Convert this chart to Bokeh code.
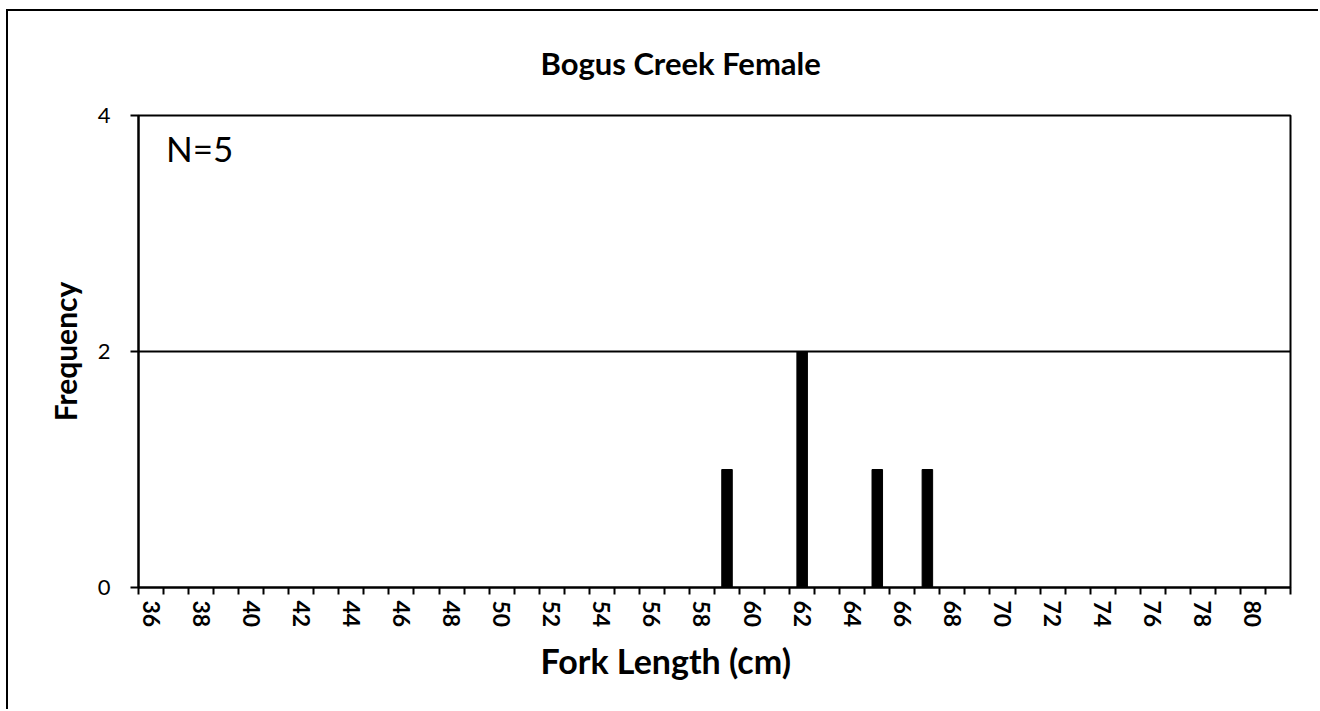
import math
from bokeh.plotting import figure
from bokeh.models import FixedTicker, Range1d, Label, Title, ColumnDataSource
from bokeh.embed import file_html
from bokeh.resources import INLINE

# data
lengths = [59, 62, 65, 67]
counts = [1, 2, 1, 1]
categories = list(range(36, 82))
x_label_values = list(range(36, 81, 2))
y_ticks = [0, 2, 4]
title_text = "Bogus Creek Female"
x_title = "Fork Length (cm)"
y_title = "Frequency"
n_text = "N=5"

FONT = "Lato"

p = figure(width=1312, height=700, output_backend="svg", toolbar_location=None,
           x_range=Range1d(categories[0] - 0.5, categories[-1] + 0.5),
           y_range=Range1d(y_ticks[0], y_ticks[-1]),
           min_border_left=130, min_border_right=30,
           min_border_top=103, min_border_bottom=124)
# chart-area border: the original is cropped on the right and bottom
p.styles = {"border-left": "2px solid black", "border-top": "2px solid black",
            "margin-left": "6px", "margin-top": "9px"}

p.title = Title(text=title_text, align="left", offset=402, text_font=FONT,
                text_font_size="31px", text_font_style="bold",
                text_color="black", standoff=64, vertical_align="top")

src = ColumnDataSource(dict(x=lengths, top=counts))
p.vbar(x="x", top="top", bottom=0, width=0.42, source=src,
       fill_color="black", line_color="black")

# x axis: labels at even values, ticks at category boundaries (minor)
xa = p.xaxis[0]
xa.ticker = FixedTicker(ticks=x_label_values,
                        minor_ticks=[c - 0.5 for c in categories] + [categories[-1] + 0.5])
xa.major_tick_out = 0
xa.major_tick_in = 0
xa.minor_tick_out = 7
xa.minor_tick_in = 0
xa.minor_tick_line_color = "black"
xa.minor_tick_line_width = 2
xa.axis_line_color = "black"
xa.axis_line_width = 2
xa.major_label_orientation = -math.pi / 2
xa.major_label_text_font = FONT
xa.major_label_text_font_size = "23px"
xa.major_label_text_font_style = "bold"
xa.major_label_text_color = "black"
xa.major_label_standoff = 6

# x axis title as a title in the lower panel (the original sits left of centre)
p.add_layout(Title(text=x_title, align="left", offset=402, text_font=FONT,
                   text_font_size="34px", text_font_style="bold",
                   text_color="black", standoff=14), "below")

ya = p.yaxis[0]
ya.ticker = FixedTicker(ticks=y_ticks, minor_ticks=[])
ya.major_tick_out = 8
ya.major_tick_in = 0
ya.major_tick_line_color = "black"
ya.major_tick_line_width = 2
ya.axis_line_color = "black"
ya.axis_line_width = 2
ya.major_label_text_font = FONT
ya.major_label_text_font_size = "22px"
ya.major_label_text_color = "black"
ya.major_label_standoff = 20
ya.axis_label = y_title
ya.axis_label_text_font = FONT
ya.axis_label_text_font_size = "30px"
ya.axis_label_text_font_style = "bold"
ya.axis_label_text_color = "black"
ya.axis_label_standoff = 12

p.xgrid.grid_line_color = None
p.ygrid.ticker = FixedTicker(ticks=y_ticks)
p.ygrid.grid_line_color = "black"
p.ygrid.grid_line_width = 2
p.ygrid.grid_line_alpha = 1

p.outline_line_color = "black"
p.outline_line_width = 2
p.outline_line_alpha = 1
p.background_fill_color = "white"
p.border_fill_color = "white"

p.add_layout(Label(x=categories[0] + 0.6, y=3.9, text=n_text, text_font=FONT,
                   text_font_size="35px", text_baseline="top", text_align="left",
                   text_color="black"))

open("out.html", "w").write(file_html(p, INLINE))
